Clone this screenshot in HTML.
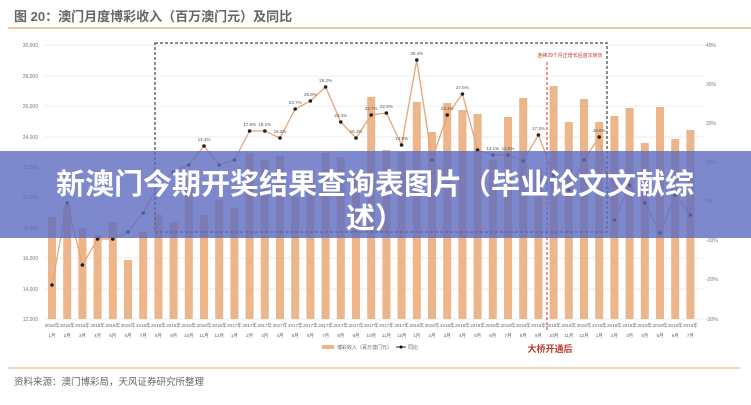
<!DOCTYPE html>
<html><head><meta charset="utf-8"><style>
body{margin:0;width:751px;height:400px;overflow:hidden;background:#fff;font-family:"Liberation Sans","Noto Sans CJK SC",sans-serif}
</style></head><body>
<svg width="751" height="400" xmlns="http://www.w3.org/2000/svg" font-family="Liberation Sans, Noto Sans CJK SC, sans-serif">
<rect width="751" height="400" fill="#fff"/>
<text x="14" y="21" font-size="13" fill="#666" font-weight="bold">图 20：澳门月度博彩收入（百万澳门元）及同比</text>
<line x1="8" y1="28" x2="751" y2="28" stroke="#f0c9a4" stroke-width="2"/>
<g stroke="#eee" stroke-width="1">
<line x1="45" y1="45" x2="705" y2="45"/><line x1="45" y1="76" x2="705" y2="76"/><line x1="45" y1="106" x2="705" y2="106"/><line x1="45" y1="137" x2="705" y2="137"/><line x1="45" y1="167" x2="705" y2="167"/><line x1="45" y1="197" x2="705" y2="197"/><line x1="45" y1="228" x2="705" y2="228"/><line x1="45" y1="258" x2="705" y2="258"/><line x1="45" y1="289" x2="705" y2="289"/><line x1="45" y1="319" x2="705" y2="319"/>
</g>
<g font-size="5" fill="#777" text-anchor="end">
<text x="38" y="47">30,000</text><text x="38" y="78">28,000</text><text x="38" y="108">26,000</text><text x="38" y="139">24,000</text><text x="38" y="169">22,000</text><text x="38" y="199">20,000</text><text x="38" y="230">18,000</text><text x="38" y="260">16,000</text><text x="38" y="291">14,000</text><text x="38" y="321">12,000</text>
</g>
<g font-size="5" fill="#777">
<text x="706" y="47">40%</text><text x="706" y="86">30%</text><text x="706" y="125">20%</text><text x="706" y="164">10%</text><text x="706" y="203">0%</text><text x="706" y="242">-10%</text><text x="706" y="281">-20%</text><text x="706" y="321">-30%</text>
</g>
<g fill="#edb58a" id="bars"></g>
<rect x="155" y="43" width="452" height="189" fill="none" stroke="#666" stroke-width="1.5" stroke-dasharray="3,2"/>
<line x1="547" y1="62" x2="547" y2="332" stroke="#d9534f" stroke-width="1.2" stroke-dasharray="3,2"/>
<text x="570" y="57" font-size="5" fill="#c0392b" text-anchor="middle">连续29个月正增长后首次转负</text>
<polyline id="ln" fill="none" stroke="#e8a577" stroke-width="1.3"/>
<g id="pts"></g>
<g id="lb" font-size="4.5" fill="#555" text-anchor="middle"></g>
<g id="xl" font-size="4.5" fill="#666" text-anchor="middle"></g>
<rect x="322" y="345" width="12" height="4" fill="#edb58a"/>
<text x="337" y="349" font-size="5" fill="#666">博彩收入（百万澳门元）</text>
<line x1="396" y1="347" x2="406" y2="347" stroke="#333"/><circle cx="401" cy="347" r="1.5"/>
<text x="408" y="349" font-size="5" fill="#666">同比</text>
<text x="550" y="352" font-size="9" fill="#c0392b" font-weight="bold" text-anchor="middle">大桥开通后</text>
<line x1="8" y1="368" x2="740" y2="368" stroke="#f0c9a4" stroke-width="1.5"/>
<text x="14" y="385" font-size="9.5" fill="#666">资料来源：澳门博彩局，天风证券研究所整理</text>
<rect x="0" y="151" width="751" height="87" fill="#5d6cbf" opacity="0.8"/>
<text x="375" y="194" font-size="29" font-weight="bold" fill="#fff" text-anchor="middle" font-family="Noto Sans CJK SC, sans-serif">新澳门今期开奖结果查询表图片（毕业论文文献综</text>
<text x="375" y="228" font-size="29" font-weight="bold" fill="#fff" text-anchor="middle" font-family="Noto Sans CJK SC, sans-serif">述）</text>
</svg>
<script>
var tops=[217,205,228,235,222,260,232,215,222,185,215,200,208,153,160,156,197,170,153,157,175,97,150,152,102,132,103,110,114,160,117,98,170,86,122,99,122,116,108,143,107,139,130];
var ln=[285,203,265,239,239,232,213,185,172,165,146,165,160,131,131,138,109,101,87,122,138,115,113,145,60,160,115,94,150,155,155,161,135,175,190,160,137,220,185,203,233,195,215];
var ns="http://www.w3.org/2000/svg",b=document.getElementById('bars'),p=document.getElementById('pts'),xl=document.getElementById('xl'),lb=document.getElementById('lb'),s="";
var labs={10:"14.4%",13:"17.8%",14:"18.1%",15:"16.3%",16:"23.7%",17:"25.8%",18:"29.2%",19:"20.4%",20:"16.1%",21:"22.7%",22:"22.6%",23:"14.8%",24:"36.4%",26:"23.4%",27:"27.6%",29:"12.1%",30:"12.5%",32:"17.3%",36:"16.6%"};
for(var i=0;i<43;i++){var x=52+i*15.2;
var r=document.createElementNS(ns,'rect');r.setAttribute('x',x-4);r.setAttribute('y',tops[i]);r.setAttribute('width',8);r.setAttribute('height',319-tops[i]);b.appendChild(r);
s+=x+","+ln[i]+" ";
var c=document.createElementNS(ns,'circle');c.setAttribute('cx',x);c.setAttribute('cy',ln[i]);c.setAttribute('r',1.8);c.setAttribute('fill','#222');p.appendChild(c);
if(labs[i]){var l=document.createElementNS(ns,'text');l.setAttribute('x',x);l.setAttribute('y',ln[i]-5);l.textContent=labs[i];lb.appendChild(l);}
var yr=2016+Math.floor(i/12),m=i%12+1;
var t=document.createElementNS(ns,'text');t.setAttribute('x',x);t.setAttribute('y',327);t.textContent=yr+"年";xl.appendChild(t);
var t2=document.createElementNS(ns,'text');t2.setAttribute('x',x);t2.setAttribute('y',337);t2.textContent=m+"月";xl.appendChild(t2);}
document.getElementById('ln').setAttribute('points',s);
</script>
</body></html>
